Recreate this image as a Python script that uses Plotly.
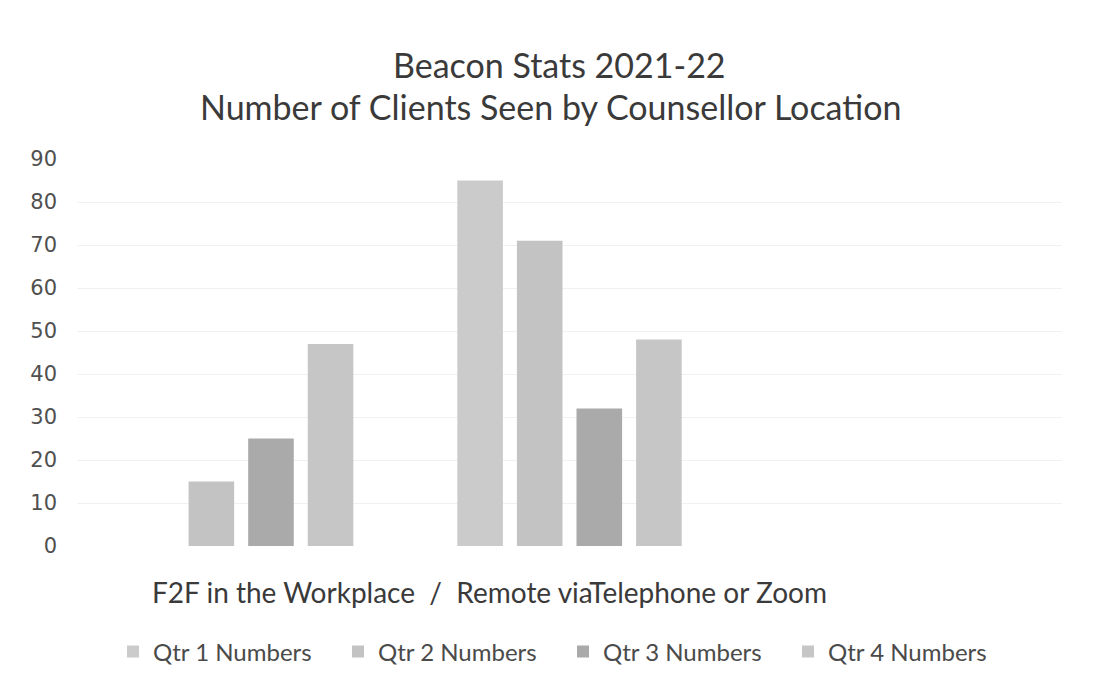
import plotly.graph_objects as go

categories = ["F2F in the Workplace", "Remote via Telephone or Zoom"]
series_names = ["Qtr 1 Numbers", "Qtr 2 Numbers", "Qtr 3 Numbers", "Qtr 4 Numbers"]
qtr1 = [None, 85]
qtr2 = [15, 71]
qtr3 = [25, 32]
qtr4 = [47, 48]
colors = ["#cbcbcb", "#c3c3c3", "#aaaaaa", "#c6c6c6"]
y_ticks = [0, 10, 20, 30, 40, 50, 60, 70, 80, 90]
title_lines = ["Beacon Stats 2021-22", "Number of Clients Seen by Counsellor Location"]
axis_caption = "F2F in the Workplace  /  Remote viaTelephone or Zoom"

W, H = 1090, 678
L, R, T, B = 69, 36, 151, 140
plot_h = H - T - B
plot_w = W - L - R


def px_to_paper_y(y):
    return (H - B - y) / plot_h


def px_to_paper_x(x):
    return (x - L) / plot_w


fig = go.Figure()
for name, vals, col in zip(series_names, [qtr1, qtr2, qtr3, qtr4], colors):
    fig.add_trace(go.Bar(x=categories, y=vals, name=name,
                         marker=dict(color=col, line=dict(width=0))))

title_font = dict(family="Lato", size=34, color="#3a3a3a")
annotations = [
    dict(text=title_lines[0], xref="paper", yref="paper",
         x=px_to_paper_x(551), y=px_to_paper_y(57),
         xanchor="center", yanchor="middle", showarrow=False, font=title_font),
    dict(text=title_lines[1], xref="paper", yref="paper",
         x=px_to_paper_x(543), y=px_to_paper_y(99),
         xanchor="center", yanchor="middle", showarrow=False, font=title_font),
    dict(text=axis_caption, xref="paper", yref="paper",
         x=px_to_paper_x(481), y=px_to_paper_y(584),
         xanchor="center", yanchor="middle", showarrow=False,
         font=dict(family="Lato", size=28, color="#3a3a3a")),
]

fig.update_layout(
    width=W, height=H,
    paper_bgcolor="white", plot_bgcolor="white",
    margin=dict(l=L, r=R, t=T, b=B, autoexpand=False),
    barmode="group", bargap=0.274, bargroupgap=0.235,
    xaxis=dict(
        type="category", range=[-0.5, 2.5], showticklabels=False,
        showgrid=False, zeroline=False, showline=False, ticks="",
    ),
    yaxis=dict(
        range=[0, 90], tickvals=y_ticks, showgrid=True, gridcolor="#f1f1f1",
        gridwidth=1, zeroline=False, showline=False, ticks="",
        ticklabelstandoff=19,
        tickfont=dict(family="DejaVu Sans", size=21, color="#505050"),
    ),
    legend=dict(
        orientation="h", x=px_to_paper_x(105), xanchor="left",
        y=px_to_paper_y(644), yanchor="middle",
        font=dict(family="Lato", size=24, color="#4a4a4a"),
        entrywidth=180, entrywidthmode="pixels",
    ),
    annotations=annotations,
)

fig.write_html("out.html")
